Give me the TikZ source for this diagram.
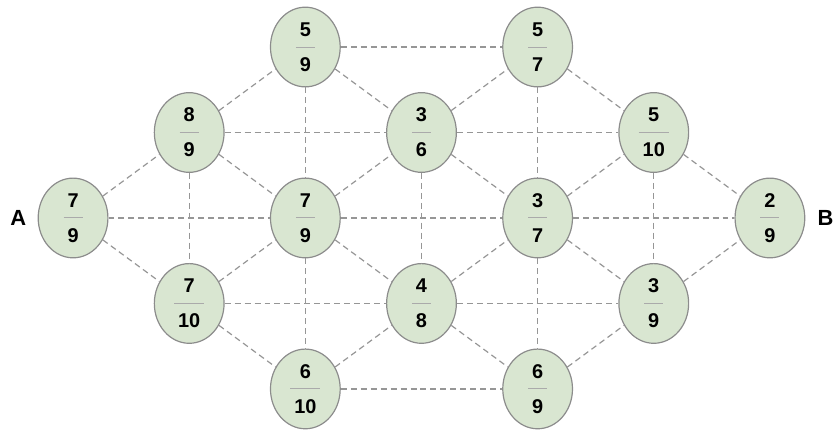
\documentclass[tikz,border=0pt]{standalone}
\usepackage{fontspec}
\setmainfont{Liberation Sans}
\usepackage{colortbl}
\usetikzlibrary{shapes.geometric,positioning}
\definecolor{cellgreen}{RGB}{217,230,209}
\definecolor{rimgray}{RGB}{140,140,140}
\definecolor{dashgray}{RGB}{150,150,150}
\definecolor{bargray}{RGB}{170,170,170}
\newcommand{\fr}[2]{{\renewcommand{\arraystretch}{1.42}\arrayrulecolor{bargray}\setlength{\arrayrulewidth}{0.5pt}%
  \begin{tabular}{@{\hspace{2pt}}c@{\hspace{2pt}}}\textbf{#1}\\\hline\textbf{#2}\end{tabular}}}
\tikzset{
  cell/.style={ellipse, draw=rimgray, fill=cellgreen, line width=0.6pt, minimum width=35pt, minimum height=40pt,
    inner sep=0pt, text height=7.5pt, text depth=2.5pt},
  link/.style={draw=dashgray, dash pattern=on 3pt off 2pt, line width=0.6pt},
  side/.style={font=\fontsize{11}{13}\selectfont\bfseries, inner sep=0pt}
}
\begin{document}
\begin{tikzpicture}[x=2.049cm, y=1.508cm, font=\fontsize{10}{12}\selectfont]
    \useasboundingbox (-0.629,-2.55) rectangle (6.569,2.55);
    % lattice of cells
    \node[cell] (top1) at (2, 2) {\fr{5}{9}};
    \node[cell] (top2) at (4, 2) {\fr{5}{7}};
    \node[cell] (up1) at (1, 1) {\fr{8}{9}};
    \node[cell] (up2) at (3, 1) {\fr{3}{6}};
    \node[cell] (up3) at (5, 1) {\fr{5}{10}};
    \node[cell] (mid1) at (0, 0) {\fr{7}{9}};
    \node[cell] (mid2) at (2, 0) {\fr{7}{9}};
    \node[cell] (mid3) at (4, 0) {\fr{3}{7}};
    \node[cell] (mid4) at (6, 0) {\fr{2}{9}};
    \node[cell] (low1) at (1, -1) {\fr{7}{10}};
    \node[cell] (low2) at (3, -1) {\fr{4}{8}};
    \node[cell] (low3) at (5, -1) {\fr{3}{9}};
    \node[cell] (bot1) at (2, -2) {\fr{6}{10}};
    \node[cell] (bot2) at (4, -2) {\fr{6}{9}};
    \node[side, left=5.5pt of mid1] (pa) {A};
    \node[side, right=6pt of mid4] (pb) {B};
    % horizontal links
    \draw[link] (top1) -- (top2);
    \draw[link] (up1) -- (up2) (up2) -- (up3);
    \draw[link] (mid1) -- (mid2) (mid2) -- (mid3) (mid3) -- (mid4);
    \draw[link] (low1) -- (low2) (low2) -- (low3);
    \draw[link] (bot1) -- (bot2);
    % vertical links
    \draw[link] (up1) -- (low1);
    \draw[link] (top1) -- (mid2) (mid2) -- (bot1);
    \draw[link] (up2) -- (low2);
    \draw[link] (top2) -- (mid3) (mid3) -- (bot2);
    \draw[link] (up3) -- (low3);
    % diagonal links
    \draw[link] (mid1) -- (up1) (mid1) -- (low1);
    \draw[link] (up1) -- (top1) (up1) -- (mid2);
    \draw[link] (low1) -- (mid2) (low1) -- (bot1);
    \draw[link] (top1) -- (up2) (mid2) -- (up2);
    \draw[link] (mid2) -- (low2) (bot1) -- (low2);
    \draw[link] (up2) -- (top2) (up2) -- (mid3);
    \draw[link] (low2) -- (mid3) (low2) -- (bot2);
    \draw[link] (top2) -- (up3) (mid3) -- (up3);
    \draw[link] (mid3) -- (low3) (bot2) -- (low3);
    \draw[link] (up3) -- (mid4) (low3) -- (mid4);
\end{tikzpicture}
\end{document}
